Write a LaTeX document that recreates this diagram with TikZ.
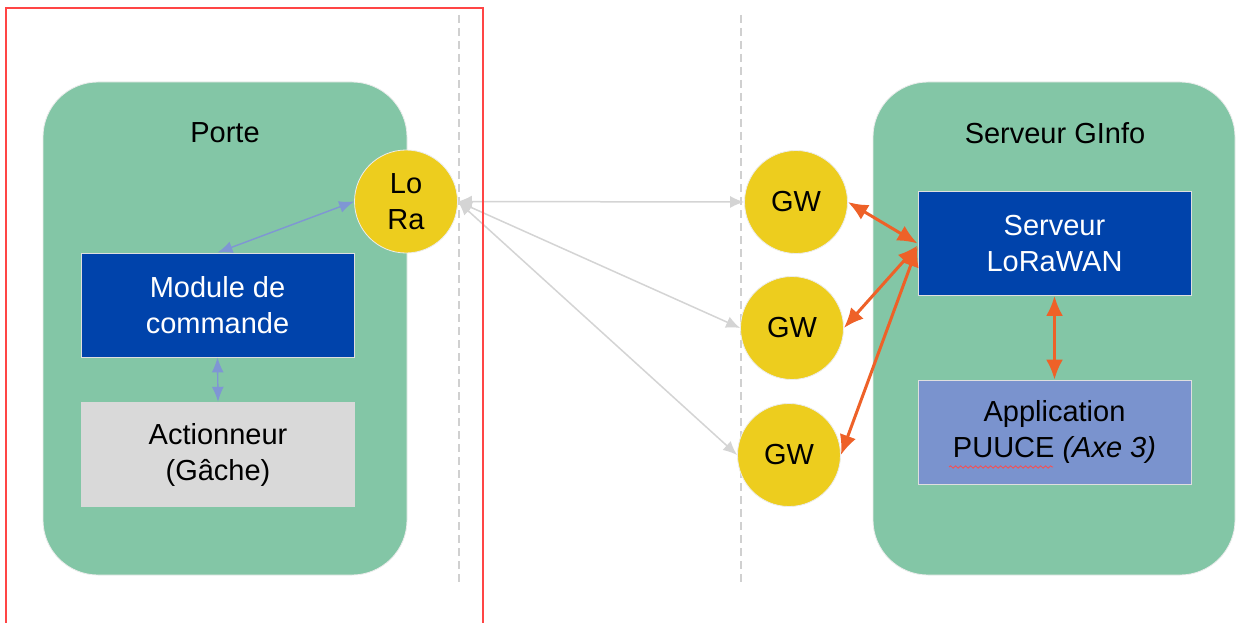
\documentclass[tikz,border=0pt]{standalone}
\usepackage{fontspec}
\setmainfont{Liberation Sans}
\usetikzlibrary{arrows.meta,decorations.pathmorphing}
\definecolor{boxgreen}{HTML}{83C6A6}
\definecolor{gwyellow}{HTML}{EDCD1E}
\definecolor{darkblue}{HTML}{0043AB}
\definecolor{appblue}{HTML}{7A93CE}
\definecolor{actgray}{HTML}{D9D9D9}
\definecolor{arrowblue}{HTML}{7F96D4}
\definecolor{arroworange}{HTML}{EE6128}
\definecolor{arrowgray}{HTML}{D4D4D4}
\definecolor{framered}{HTML}{FF4545}
\definecolor{dashgray}{HTML}{D0D0D0}
\begin{document}
\begin{tikzpicture}[x=1pt,y=-1pt,
  txt/.style={font=\fontsize{29}{36}\selectfont, align=center, inner sep=0pt},
  container/.style={fill=boxgreen, draw=white!85!gray, line width=0.8pt, rounded corners=55pt, minimum width=364pt, minimum height=493pt},
  bluebox/.style={txt, fill=darkblue, draw=white!75!gray, line width=0.8pt, text=white, minimum width=273pt, minimum height=104pt},
  graybox/.style={txt, fill=actgray, minimum width=274pt, minimum height=105pt},
  appbox/.style={txt, fill=appblue, draw=white!75!gray, line width=0.8pt, minimum width=273pt, minimum height=104pt},
  radio/.style={txt, circle, fill=gwyellow, draw=white!85!gray, line width=0.8pt, minimum size=103pt},
  bluearrow/.style={arrowblue, line width=1.4pt, {Latex[length=15pt,width=12pt]}-{Latex[length=15pt,width=12pt]}},
  grayarrow/.style={arrowgray, line width=1.5pt, {Latex[length=14pt,width=12pt]}-{Latex[length=14pt,width=12pt]}},
  orangearrow/.style={arroworange, line width=3pt, {Latex[length=20pt,width=17pt]}-{Latex[length=20pt,width=17pt]}},
  divider/.style={dashgray, line width=1.5pt, dash pattern=on 8pt off 5pt}
]
\useasboundingbox (0,0) rectangle (1236,623);
\fill[white] (0,0) rectangle (1236,623);

% dividers
\draw[divider] (459,15) -- (459,585);
\draw[divider] (741,15) -- (741,585);

% containers
\node[container] (porte) at (225,328.5) {};
\node[container, minimum width=362pt] (ginfo) at (1054,328.5) {};
\node[txt] (portelabel) at (225,133) {Porte};
\node[txt] (ginfolabel) at (1055,133) {Serveur GInfo};

% left side
\node[bluebox] (module) at (217.5,305) {Module de\\commande};
\node[graybox] (act) at (218,454.5) {Actionneur\\(Gâche)};
\node[radio] (lora) at (406,201.5) {Lo\\Ra};

% gateways
\node[radio] (gw1) at (796,202) {GW};
\node[radio] (gw2) at (792,328) {GW};
\node[radio] (gw3) at (789,455) {GW};

% right side
\node[bluebox] (lorawan) at (1054.5,243.5) {Serveur\\LoRaWAN};
\node[appbox] (app) at (1054.5,432) {Application\\PUUCE \textit{(Axe 3)}};
\draw[red!70, line width=0.8pt, decorate, decoration={snake, amplitude=1.2pt, segment length=5pt}] (949,467) -- (1053,467);

% connectors
\draw[bluearrow] (module.north) -- (lora.west);
\draw[bluearrow] (module.south) -- (act.north);
\draw[grayarrow] (lora.east) -- (gw1.west);
\draw[grayarrow] (lora.east) -- (gw2.west);
\draw[grayarrow] (lora.east) -- (gw3.west);
\draw[orangearrow] (gw1.east) -- (lorawan.west);
\draw[orangearrow] (gw2.east) -- ([yshift=-2pt]lorawan.west);
\draw[orangearrow] (gw3.east) -- ([yshift=-3pt]lorawan.west);
\draw[orangearrow] (lorawan.south) -- (app.north);

% red frame
\draw[framered, line width=2.5pt] (6,630) -- (6,8) -- (483,8) -- (483,630);
\end{tikzpicture}
\end{document}
